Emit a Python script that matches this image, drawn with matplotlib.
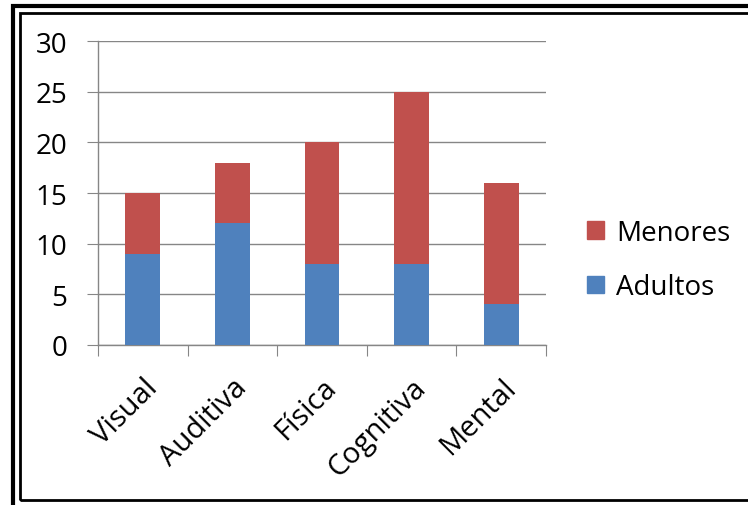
import matplotlib
matplotlib.use('Agg')
import matplotlib.pyplot as plt
from matplotlib.patches import Rectangle, Patch
import numpy as np

plt.rcParams['font.family'] = ['Open Sans', 'DejaVu Sans']

categorias = ["Visual", "Auditiva", "Física", "Cognitiva", "Mental"]
adultos = [9, 12, 8, 8, 4]
menores = [6, 6, 12, 17, 12]

azul = "#4F81BD"
rojo = "#C0504D"
gris = "#868686"

W, H = 748, 506
fig = plt.figure(figsize=(W / 100, H / 100), dpi=100)
ax = fig.add_axes([98 / W, 1 - 346 / H, 448 / W, 304 / H])

x = np.arange(len(categorias))
ax.bar(x, adultos, width=0.39, color=azul, zorder=3)
ax.bar(x, menores, width=0.39, bottom=adultos, color=rojo, zorder=3)

ax.set_xlim(-0.5, len(categorias) - 0.5)
ax.set_ylim(0, 30)
ax.set_yticks(range(0, 31, 5))
ax.yaxis.grid(True, color=gris, linewidth=1, zorder=0)
ax.tick_params(axis='y', length=8, color=gris, labelsize=20, pad=14)

# ticks between categories on the x axis, labels at the centres
ax.set_xticks(np.arange(-0.5, len(categorias), 1.0))
ax.set_xticklabels([])
ax.tick_params(axis='x', which='major', length=8, color=gris)
ax.set_xticks(x, minor=True)
ax.set_xticklabels(categorias, minor=True, rotation=45, ha='right',
                   rotation_mode='anchor', fontsize=21)
ax.tick_params(axis='x', which='minor', length=0, pad=20)

for s in ['top', 'right']:
    ax.spines[s].set_visible(False)
for s in ['left', 'bottom']:
    ax.spines[s].set_color(gris)
    ax.spines[s].set_linewidth(1)

handles = [Patch(color=rojo, label="Menores"), Patch(color=azul, label="Adultos")]
fig.legend(handles=handles, loc='center left', bbox_to_anchor=(562 / W, 1 - 261 / H),
           frameon=False, fontsize=20, handlelength=0.6, handleheight=0.6,
           handletextpad=0.45, labelspacing=0.95)

# double border around the chart (right and bottom run past the edge)
fig.patches.append(Rectangle((13 / W, -20 / H), 760 / W, (H - 6.5 + 20) / H,
                             transform=fig.transFigure, fill=False,
                             edgecolor='black', linewidth=3))
fig.patches.append(Rectangle((20 / W, (H - 500.5) / H), 760 / W, 486.5 / H,
                             transform=fig.transFigure, fill=False,
                             edgecolor='black', linewidth=2))

fig.savefig("out.png", dpi=100)
